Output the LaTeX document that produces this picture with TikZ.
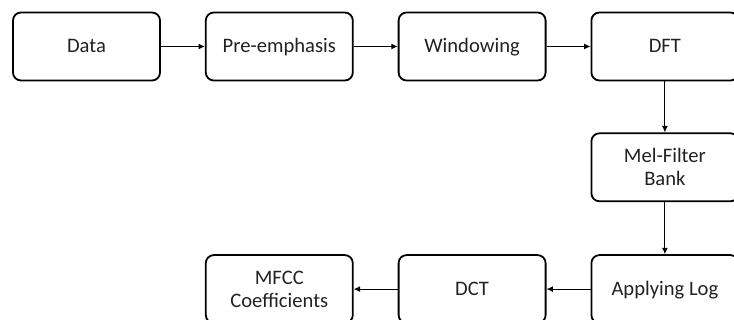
\documentclass[tikz,border=0pt]{standalone}
\usepackage{fontspec}
\setmainfont{Carlito}
\usetikzlibrary{arrows.meta,positioning}
\definecolor{inkgray}{HTML}{222222}
\tikzset{
  blk/.style={rectangle,rounded corners=4pt,draw=black,line width=0.9pt,
              minimum width=73.5pt,minimum height=34pt,inner sep=2pt,
              font=\fontsize{10.3}{11.5}\selectfont,align=center,text=inkgray},
  oneline/.style={blk,text height=6.5pt,text depth=0pt},
  arr/.style={-{Latex[length=3.2pt,width=3pt]},line width=0.55pt,color=black},
}

\begin{document}
\begin{tikzpicture}
  \useasboundingbox (0,0) rectangle (367pt,-160pt);
  % top row
  \node[oneline] (data) at (43.25pt,-23.25pt) {Data};
  \node[oneline,right=22pt of data] (preemph) {Pre-emphasis};
  \node[oneline,right=22pt of preemph] (window) {Windowing};
  \node[oneline,right=22pt of window] (dft) {DFT};
  % right column and bottom row
  \node[blk,below=25.5pt of dft] (melbank) {Mel-Filter\\Bank};
  \node[oneline,below=26pt of melbank] (logstep) {Applying Log};
  \node[oneline,left=22pt of logstep] (dct) {DCT};
  \node[blk,left=22pt of dct] (mfcc) {MFCC\\Coefficients};

  \draw[arr] (data) -- (preemph);
  \draw[arr] (preemph) -- (window);
  \draw[arr] (window) -- (dft);
  \draw[arr] (dft) -- (melbank);
  \draw[arr] (melbank) -- (logstep);
  \draw[arr] (logstep) -- (dct);
  \draw[arr] (dct) -- (mfcc);
\end{tikzpicture}
\end{document}
